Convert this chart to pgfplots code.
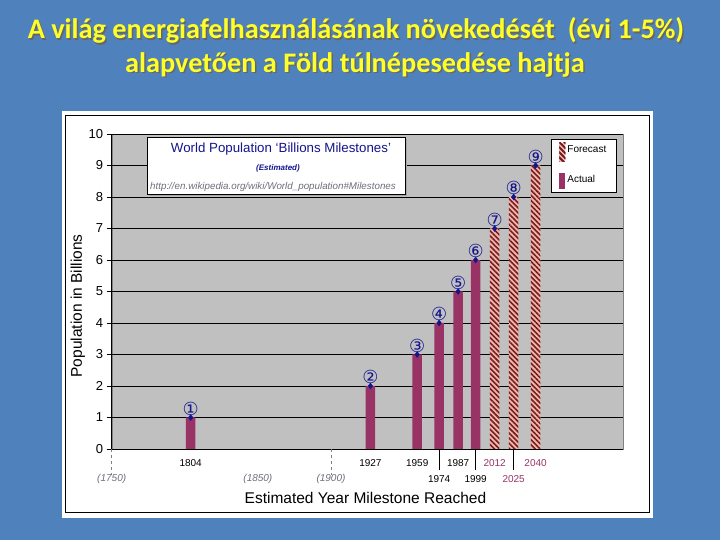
\documentclass[border=0pt]{standalone}
\usepackage{fontspec}
\setmainfont{Liberation Sans}
\newfontfamily\titlefont{Carlito}
\newfontfamily\symfont{DejaVu Sans}
\usepackage{pgfplots}
\pgfplotsset{compat=1.18}
\usetikzlibrary{patterns.meta}

\definecolor{slideblue}{RGB}{79,129,189}
\definecolor{plotgray}{RGB}{192,192,192}
\definecolor{plum}{RGB}{153,51,102}
\definecolor{hatchbg}{RGB}{240,184,168}
\definecolor{hatchfg}{RGB}{120,28,36}
\definecolor{navy}{RGB}{20,20,140}
\definecolor{titleyellow}{RGB}{255,255,40}
\definecolor{urlgray}{RGB}{110,110,125}

\begin{document}
\begin{tikzpicture}
% slide background and white chart panel
\begin{scope}[x=1pt,y=1pt]
\fill[slideblue] (0,0) rectangle (720,540);
\fill[white] (62,22.3) rectangle (652.7,428.5);
\draw[line width=0.8pt] (65.5,28) rectangle (649,425);

% slide title with shadow
\begin{scope}[font=\titlefont\bfseries\fontsize{28.3}{30}\selectfont]
  \node[text=black!60, anchor=base] at (357.5,499.5) {A világ energiafelhasználásának növekedését\ \ (évi 1-5\%)};
  \node[text=black!60, anchor=base] at (356.5,466) {alapvetően a Föld túlnépesedése hajtja};
  \node[text=titleyellow, anchor=base] at (356,501) {A világ energiafelhasználásának növekedését\ \ (évi 1-5\%)};
  \node[text=titleyellow, anchor=base] at (355,467.5) {alapvetően a Föld túlnépesedése hajtja};
\end{scope}
\end{scope}

\begin{axis}[
  at={(111.7pt,91pt)}, anchor=south west,
  scale only axis, width=511.6pt, height=315pt,
  xmin=1750, xmax=2100, ymin=0, ymax=10,
  clip=false,
  axis lines*=left,
  axis line style={-, black, line width=0.9pt},
  axis background/.style={fill=plotgray, draw=gray},
  ymajorgrids, grid style={black, line width=0.8pt},
  ytick={0,1,...,10},
  tick align=outside, major tick length=5pt,
  major x tick style={draw=none},
  major y tick style={black, line width=0.8pt},
  /pgf/number format/assume math mode=true,
  yticklabel style={font=\fontsize{13}{14}\selectfont},
  xtick={1804,1927,1959,1987,2012,2040},
  xticklabels={1804,1927,1959,1987,\textcolor{plum}{2012},\textcolor{plum}{2040}},
  xticklabel style={font=\fontsize{10}{12}\selectfont, anchor=center, yshift=-9pt},
  extra x ticks={1750,1850,1900,1974,1999,2025},
  extra x tick labels={\textcolor{urlgray}{\itshape (1750)},\textcolor{urlgray}{\itshape (1850)},\textcolor{urlgray}{\itshape (1900)},1974,1999,\textcolor{plum}{2025}},
  extra x tick style={xticklabel style={yshift=-16pt}},
  ylabel={Population in Billions},
  xlabel={Estimated Year Milestone Reached},
  every axis y label/.style={at={(axis description cs:-0.066,0.454)}, rotate=90, anchor=center, font=\fontsize{15.5}{16}\selectfont},
  every axis x label/.style={at={(axis description cs:0.496,-0.1556)}, anchor=center, font=\fontsize{15.5}{16}\selectfont},
  legend style={at={(axis description cs:0.8587,0.984)}, anchor=north west,
    draw=black, fill=white, line width=0.8pt, font=\fontsize{10}{12}\selectfont,
    inner xsep=8pt, inner ysep=3.5pt, row sep=11pt,
    /tikz/every even column/.append style={column sep=0pt}},
  legend cell align=left,
  reverse legend,
]
\addplot[ybar, bar width=9.5pt, bar shift=0pt, fill=plum, draw=none,
  legend image code/.code={\fill[plum] (0pt,-9pt) rectangle (6pt,7pt);}]
  coordinates {(1804,1) (1927,2) (1959,3) (1974,4) (1987,5) (1999,6)};
\addlegendentry{Actual}
\addplot[ybar, bar width=9.5pt, bar shift=0pt, fill=hatchbg, draw=none,
  postaction={pattern={Lines[angle=-45, distance=3.6pt, line width=1.6pt]}, pattern color=hatchfg},
  legend image code/.code={\fill[hatchbg, postaction={pattern={Lines[angle=-45, distance=3.6pt, line width=1.6pt]}, pattern color=hatchfg}] (0pt,-12pt) rectangle (6pt,7pt);}]
  coordinates {(2012,7) (2025,8) (2040,9)};
\addlegendentry{Forecast}
% milestone markers with circled numbers
\addplot[only marks, mark=diamond*, mark size=3pt, color=navy, forget plot,
  nodes near coords, point meta=explicit symbolic,
  nodes near coords style={anchor=south, font=\symfont\fontsize{18}{18}\selectfont, text=navy, inner sep=0pt, yshift=2pt}]
  coordinates {(1804,1) [①] (1927,2) [②] (1959,3) [③] (1974,4) [④] (1987,5) [⑤]
               (1999,6) [⑥] (2012,7) [⑦] (2025,8) [⑧] (2040,9) [⑨]};
% leader lines under the lower tick row
\draw[line width=0.7pt] (axis cs:1974,0) -- ++(0pt,-21pt);
\draw[line width=0.7pt] (axis cs:1999,0) -- ++(0pt,-21pt);
\draw[line width=0.7pt] (axis cs:2025,0) -- ++(0pt,-21pt);
\draw[line width=0.6pt, dashed, gray] (axis cs:1750,0) -- ++(0pt,-26pt);
\draw[line width=0.6pt, dashed, gray] (axis cs:1900,0) -- ++(0pt,-26pt);
\end{axis}

% inset title box
\begin{scope}[x=1pt,y=1pt]
\fill[gray!70] (149.3,343.7) rectangle (407,400.7);
\draw[fill=white, line width=0.8pt] (147.3,345.7) rectangle (405,402.7);
\node[text=navy, font=\fontsize{13.3}{14}\selectfont] at (281,391) {World Population ‘Billions Milestones’};
\node[text=navy, font=\fontsize{8}{9}\selectfont\bfseries\itshape] at (278,372) {(Estimated)};
\node[text=urlgray, font=\fontsize{9.8}{10}\selectfont\itshape] at (273,353) {http://en.wikipedia.org/wiki/World\_population\#Milestones};
\end{scope}
\end{tikzpicture}
\end{document}
